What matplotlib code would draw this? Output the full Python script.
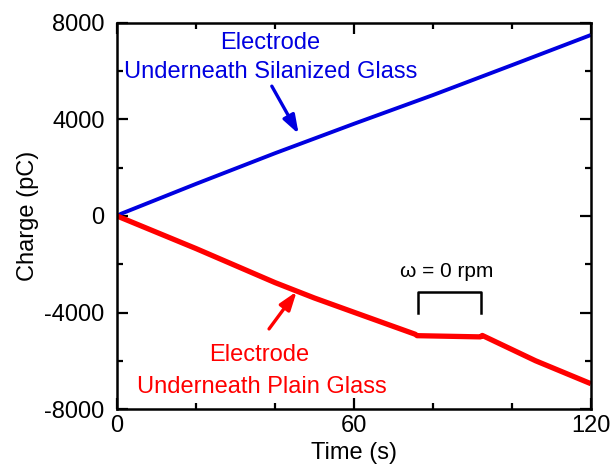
import numpy as np
import matplotlib
matplotlib.use("Agg")
import matplotlib.pyplot as plt
from matplotlib.ticker import MultipleLocator

# --- Data ---
t_blue = [0, 1, 20, 40, 60, 80, 100, 120]
q_blue = [0, 90, 1330, 2600, 3820, 5010, 6250, 7500]

t_red = [0, 20, 40, 50, 60, 75.5, 76, 92, 92.5, 106, 120]
q_red = [0, -1350, -2760, -3400, -3990, -4900, -4960, -5010, -4950, -6000, -6950]

x_ticks = [0, 60, 120]
y_ticks = [-8000, -4000, 0, 4000, 8000]

plt.rcParams["font.family"] = ["Liberation Sans", "DejaVu Sans"]
plt.rcParams["axes.unicode_minus"] = False

FS = 17

fig = plt.figure(figsize=(6.13, 4.68), dpi=100)
ax = fig.add_axes([0.1909, 0.126, 0.773, 0.825])

ax.plot(t_blue, q_blue, color="#0000e0", linewidth=2.8, solid_capstyle="butt")
ax.plot(t_red, q_red, color="#ff0000", linewidth=3.8, solid_capstyle="butt")

ax.set_xlim(0, 120)
ax.set_ylim(-8000, 8000)
ax.set_xticks(x_ticks)
ax.set_yticks(y_ticks)
ax.xaxis.set_minor_locator(MultipleLocator(20))
ax.yaxis.set_minor_locator(MultipleLocator(2000))
ax.tick_params(which="both", direction="in", top=True, right=True, width=1.6, labelsize=FS)
ax.tick_params(which="major", length=8)
ax.tick_params(which="minor", length=4.5)
ax.tick_params(axis="y", pad=9)
ax.tick_params(axis="x", pad=4)
for sp in ax.spines.values():
    sp.set_linewidth(1.8)

ax.set_xlabel("Time (s)", fontsize=FS, labelpad=4)
ax.set_ylabel("Charge (pC)", fontsize=FS, labelpad=4)

# annotations
arrow_style = "-|>,head_length=1.1,head_width=0.38"
ax.text(38.9, 7170, "Electrode", color="#0000e0", fontsize=FS, ha="center", va="center")
ax.text(38.9, 5970, "Underneath Silanized Glass", color="#0000e0", fontsize=FS,
        ha="center", va="center")
ax.annotate("", xy=(46.0, 3400), xytext=(39.2, 5380),
            arrowprops=dict(arrowstyle=arrow_style, color="#0000e0", lw=2.4,
                            shrinkA=0, shrinkB=0))

ax.text(35.9, -5760, "Electrode", color="#ff0000", fontsize=FS, ha="center", va="center")
ax.text(36.6, -7090, "Underneath Plain Glass", color="#ff0000", fontsize=FS,
        ha="center", va="center")
ax.annotate("", xy=(45.5, -3130), xytext=(38.5, -4680),
            arrowprops=dict(arrowstyle=arrow_style, color="#ff0000", lw=2.4,
                            shrinkA=0, shrinkB=0))

ax.plot([76.1, 76.1, 92.1, 92.1], [-4000, -3170, -3170, -4000], color="black", lw=1.8)
ax.text(83.6, -2300, "ω = 0 rpm", fontsize=15, ha="center", va="center")

fig.savefig("out.png", dpi=100)
